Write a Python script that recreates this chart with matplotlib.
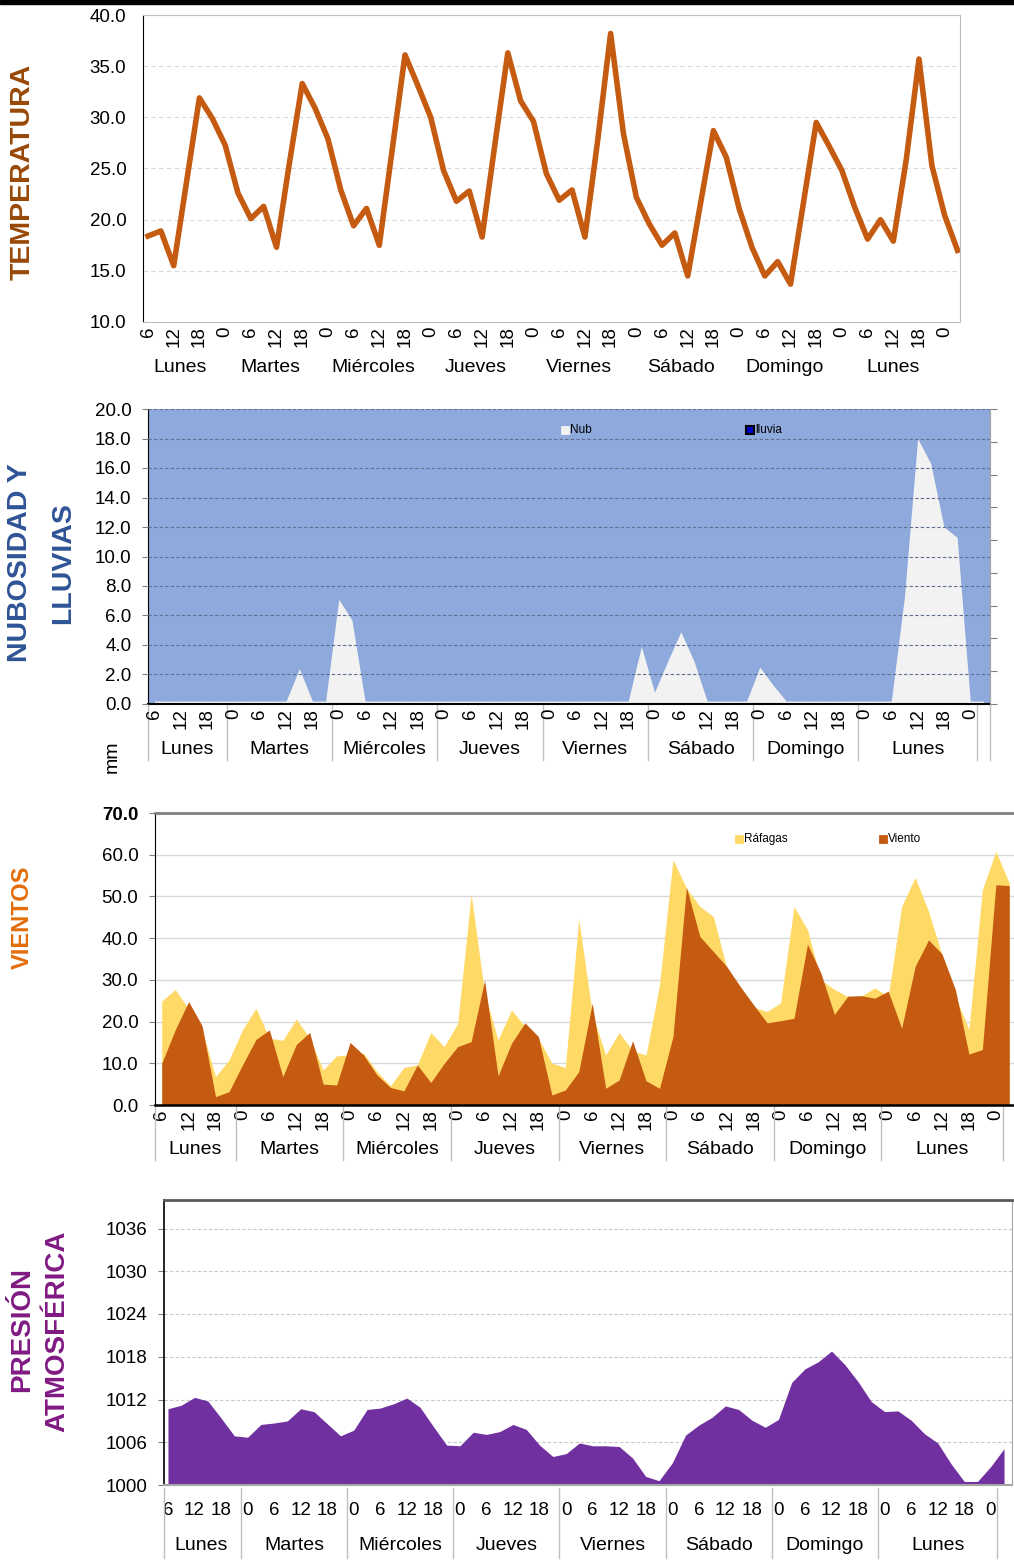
import matplotlib
matplotlib.use('Agg')
import matplotlib.pyplot as plt
import matplotlib.transforms as mtransforms
from matplotlib.patches import Rectangle
import numpy as np

plt.rcParams['font.family'] = ['Liberation Sans', 'DejaVu Sans']

# datos cada 3 horas, desde Lunes 6h hasta Martes 3h
temperatura = [18.4, 18.9, 15.5, 23.7, 31.9, 29.9, 27.3, 22.6, 20.1, 21.3,
               17.3, 25.5, 33.3, 30.9, 27.9, 22.9, 19.4, 21.1, 17.5, 26.8,
               36.1, 33.1, 30.0, 24.8, 21.8, 22.8, 18.3, 27.4, 36.3, 31.6,
               29.6, 24.5, 21.9, 22.9, 18.3, 27.8, 38.2, 28.4, 22.2, 19.6,
               17.5, 18.7, 14.5, 21.6, 28.7, 26.1, 21.1, 17.3, 14.5, 15.9,
               13.7, 21.6, 29.5, 27.2, 24.8, 21.2, 18.1, 20.0, 17.9, 25.8,
               35.7, 25.3, 20.4, 17.0]

nubosidad = [0.2, 0.2, 0.2, 0.2, 0.2, 0.2, 0.2, 0.2, 0.2, 0.2,
             0.2, 2.4, 0.2, 0.2, 7.1, 5.7, 0.2, 0.2, 0.2, 0.2,
             0.2, 0.2, 0.2, 0.2, 0.2, 0.2, 0.2, 0.2, 0.2, 0.2,
             0.2, 0.2, 0.2, 0.2, 0.2, 0.2, 0.2, 3.9, 0.8, 2.9,
             4.9, 2.9, 0.2, 0.2, 0.2, 0.2, 2.5, 1.3, 0.2, 0.2,
             0.2, 0.2, 0.2, 0.2, 0.2, 0.2, 0.2, 7.3, 18.0, 16.3,
             12.0, 11.3, 0.2, 0.2]
lluvia = [0.0] * 64  # sin lluvia en todo el periodo

rafagas = [24.9, 27.7, 23.0, 18.0, 6.8, 10.8, 18.0, 23.2, 16.0, 15.5,
           20.6, 16.0, 8.4, 11.8, 12.0, 12.4, 8.0, 4.6, 9.0, 9.6,
           17.4, 14.0, 19.6, 50.6, 26.8, 15.6, 22.8, 18.8, 16.0, 10.0,
           9.0, 44.6, 22.0, 12.0, 17.4, 13.0, 12.0, 28.8, 58.8, 52.0,
           47.6, 45.2, 32.8, 28.4, 23.4, 22.4, 24.5, 47.6, 42.0, 30.0,
           27.7, 26.0, 26.1, 28.1, 26.0, 47.6, 54.6, 46.4, 36.0, 26.0,
           18.1, 51.6, 60.8, 53.2]
viento = [10.0, 18.0, 24.8, 19.0, 2.0, 3.2, 9.6, 15.7, 18.0, 6.8,
          14.5, 17.4, 5.0, 4.8, 15.0, 12.0, 7.2, 4.2, 3.4, 9.6,
          5.4, 10.0, 14.0, 15.2, 29.9, 7.0, 14.8, 19.7, 16.4, 2.4,
          3.6, 8.0, 24.4, 4.0, 6.0, 15.4, 5.8, 4.0, 16.4, 52.2,
          40.4, 36.8, 33.2, 28.4, 24.0, 19.7, 20.2, 20.8, 38.6, 31.6,
          21.7, 26.1, 26.2, 25.6, 27.3, 18.4, 33.2, 39.6, 36.2, 27.6,
          12.2, 13.3, 52.8, 52.6]

presion = [1010.7, 1011.2, 1012.3, 1011.8, 1009.4, 1006.9, 1006.7, 1008.5, 1008.7, 1009.0,
           1010.7, 1010.3, 1008.6, 1006.9, 1007.7, 1010.6, 1010.8, 1011.4, 1012.2, 1010.9,
           1008.2, 1005.6, 1005.5, 1007.4, 1007.1, 1007.5, 1008.5, 1007.8, 1005.6, 1004.0,
           1004.4, 1005.9, 1005.5, 1005.5, 1005.4, 1003.8, 1001.2, 1000.6, 1003.1, 1007.0,
           1008.4, 1009.5, 1011.1, 1010.6, 1009.1, 1008.1, 1009.2, 1014.4, 1016.3, 1017.3,
           1018.8, 1016.9, 1014.5, 1011.7, 1010.3, 1010.4, 1009.1, 1007.2, 1005.9, 1003.0,
           1000.5, 1000.5, 1002.6, 1005.1]

horas = ['6', '12', '18'] + ['0', '6', '12', '18'] * 7 + ['0']
dias = ['Lunes', 'Martes', 'Miércoles', 'Jueves', 'Viernes', 'Sábado', 'Domingo', 'Lunes']
cortes = [-0.5, 5.5, 13.5, 21.5, 29.5, 37.5, 45.5, 53.5, 62.5]

W, H = 1014, 1560
fig = plt.figure(figsize=(W / 100, H / 100), dpi=100)
x = np.arange(len(temperatura))
centros = [(cortes[i] + cortes[i + 1]) / 2 for i in range(len(dias))]


def ejes(left, top, right, bottom):
    return fig.add_axes([left / W, 1 - bottom / H, (right - left) / W, (bottom - top) / H])


def fy(ypix):
    return 1 - ypix / H


def etiquetas_x(ax, y_dia, rot=90, pad=3):
    ax.set_xticks(x[::2])
    ax.set_xticklabels(horas, rotation=rot)
    ax.tick_params(axis='x', length=0, pad=pad, labelsize=13.5)
    tr = mtransforms.blended_transform_factory(ax.transData, fig.transFigure)
    for c, d in zip(centros, dias):
        ax.text(c, fy(y_dia), d, transform=tr, ha='center', va='center', fontsize=14)
    return tr


def separadores(ax, tr, top, bottom, xs):
    for s in xs:
        ax.plot([s, s], [fy(top), fy(bottom)], transform=tr, color='#bfbfbf',
                lw=1, clip_on=False)


def leyenda(xpx, ypx, color, borde, texto, lw=0.6):
    fig.add_artist(Rectangle((xpx / W, fy(ypx + 4)), 8 / W, 8 / H, transform=fig.transFigure,
                             facecolor=color, edgecolor=borde, lw=lw))
    fig.text((xpx + 9) / W, fy(ypx), texto, fontsize=8.5, va='center', ha='left')


def titulo(xpx, ypx, texto, color, size):
    fig.text(xpx / W, fy(ypx), texto, rotation=90, ha='center', va='center',
             fontsize=size, fontweight='bold', color=color)


# barra negra superior
fig.add_artist(Rectangle((0, fy(4)), 1, 4 / H, transform=fig.transFigure, color='black'))

# ---------- TEMPERATURA ----------
ax1 = ejes(143, 15, 960, 322)
ax1.plot(x, temperatura, color='#C55A11', lw=4, solid_joinstyle='round')
ax1.set_xlim(-0.39, 63.19)
ax1.set_ylim(10, 40)
ax1.set_yticks(np.arange(10, 41, 5))
ax1.set_yticklabels(['%.1f' % v for v in np.arange(10, 41, 5)])
ax1.tick_params(axis='y', length=0, pad=12, labelsize=13.5)
ax1.yaxis.grid(True, ls=(0, (4, 3)), color='#d9d9d9', lw=0.8)
ax1.set_axisbelow(True)
ax1.spines['left'].set_color('black')
for s in ['top', 'right', 'bottom']:
    ax1.spines[s].set_color('#bfbfbf')
etiquetas_x(ax1, 367)
titulo(23, 172, 'TEMPERATURA', '#984807', 20.5)

# ---------- NUBOSIDAD Y LLUVIAS ----------
ax2 = ejes(148, 409, 990, 704)
ax2.set_facecolor('#8EA9DB')
ax2.fill_between(x, 0, nubosidad, color='#F2F2F2', lw=0)
ax2.fill_between(x, 0, lluvia, color='#0000CC', lw=0)
ax2.set_xlim(-0.5, 63.5)
ax2.set_ylim(0, 20)
ax2.set_yticks(np.arange(0, 21, 2))
ax2.set_yticklabels(['%.1f' % v for v in np.arange(0, 21, 2)])
ax2.tick_params(axis='y', length=4, pad=8, labelsize=13.5, color='#808080')
ax2.yaxis.grid(True, ls=(0, (3, 2)), color='#5F6F8F', lw=0.8)
ax2.set_axisbelow(False)
ax2.spines['top'].set_visible(False)
ax2.spines['left'].set_color('black')
ax2.spines['bottom'].set_color('black')
ax2.spines['bottom'].set_linewidth(1.5)
ax2.spines['right'].set_color('#a6a6a6')
tr2 = etiquetas_x(ax2, 749)
separadores(ax2, tr2, 704, 760, cortes + [63.5])
ax2b = ax2.twinx()
ax2b.set_ylim(0, 9)
ax2b.set_yticks(np.arange(0, 10))
ax2b.set_yticklabels([])
ax2b.tick_params(axis='y', length=5, color='#808080')
for s in ['top', 'left', 'bottom']:
    ax2b.spines[s].set_visible(False)
ax2b.spines['right'].set_color('#a6a6a6')
leyenda(561, 430, '#F2F2F2', '#F2F2F2', 'Nub')
leyenda(746, 430, '#0000CC', 'black', 'lluvia', lw=1.5)
titulo(20, 563, 'NUBOSIDAD Y', '#2F5496', 20.5)
titulo(63, 563, 'LLUVIAS', '#2F5496', 20.5)
fig.text(112 / W, fy(757), 'mm', rotation=90, ha='center', va='center', fontsize=14)

# ---------- VIENTOS ----------
ax3 = ejes(155, 813, 1016, 1105)
ax3.fill_between(x, 0, rafagas, color='#FFD966', lw=0)
ax3.fill_between(x, 0, viento, color='#C55A11', lw=0)
ax3.set_xlim(-0.5, 63.5)
ax3.set_ylim(0, 70)
ax3.set_yticks(np.arange(0, 71, 10))
ax3.set_yticklabels(['%.1f' % v for v in np.arange(0, 71, 10)])
ax3.get_yticklabels()[-1].set_fontweight('bold')
ax3.tick_params(axis='y', length=4, pad=8, labelsize=13.5, color='#808080')
ax3.yaxis.grid(True, color='#d9d9d9', lw=1)
ax3.set_axisbelow(True)
ax3.spines['right'].set_visible(False)
ax3.spines['top'].set_color('#7f7f7f')
ax3.spines['top'].set_linewidth(2)
ax3.spines['left'].set_color('black')
ax3.spines['bottom'].set_color('black')
ax3.spines['bottom'].set_linewidth(1.8)
tr3 = etiquetas_x(ax3, 1150)
separadores(ax3, tr3, 1105, 1160, cortes)
leyenda(735, 839, '#FFD966', '#FFD966', 'Ráfagas')
leyenda(879, 839, '#C55A11', '#C55A11', 'Viento')
titulo(22, 917, 'VIENTOS', '#E46C0A', 17)

# ---------- PRESIÓN ATMOSFÉRICA ----------
ax4 = ejes(164, 1200, 1012, 1485)
ax4.fill_between(x, 1000, presion, color='#7030A0', lw=0)
ax4.set_xlim(-0.3, 63.6)
ax4.set_ylim(1000, 1040)
ax4.set_yticks(np.arange(1000, 1037, 6))
ax4.tick_params(axis='y', length=4, pad=8, labelsize=13.5, color='#808080')
ax4.yaxis.grid(True, ls=(0, (3, 2)), color='#c8c8c8', lw=0.8)
ax4.set_axisbelow(True)
ax4.spines['top'].set_color('#595959')
ax4.spines['top'].set_linewidth(2)
ax4.spines['left'].set_color('black')
ax4.spines['left'].set_linewidth(1.2)
ax4.spines['right'].set_color('#a6a6a6')
ax4.spines['bottom'].set_color('#a6a6a6')
ax4.spines['bottom'].set_linewidth(1.5)
tr4 = etiquetas_x(ax4, 1545, rot=0, pad=12)
separadores(ax4, tr4, 1488, 1558, [-0.3] + cortes[1:])
titulo(22, 1330, 'PRESIÓN', '#7F1A82', 20)
titulo(57, 1331, 'ATMOSFÉRICA', '#7F1A82', 20)

fig.savefig('out.png', dpi=100)
